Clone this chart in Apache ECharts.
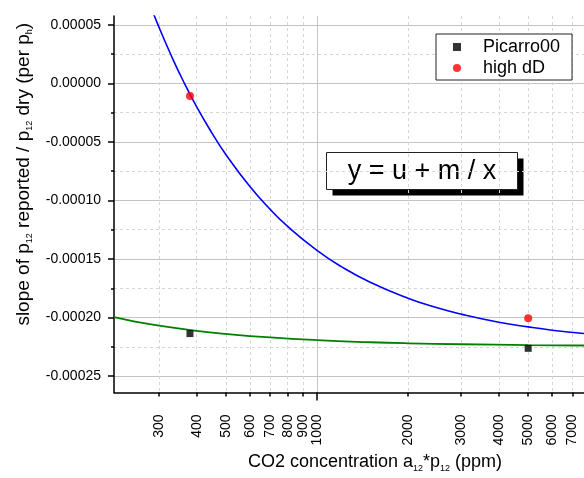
<!DOCTYPE html>
<html>
<head>
<meta charset="utf-8">
<style>
  html, body { margin: 0; padding: 0; background: #fff; }
  #chart { width: 584px; height: 478px; }
</style>
<script src="https://cdn.jsdelivr.net/npm/echarts@6/dist/echarts.min.js"></script>
</head>
<body>
<div id="chart"></div>
<script>
// Measured points: slope vs CO2 concentration (ppm)
const picarroX = [380, 5000];
const picarroY = [-0.0002137, -0.0002263];
const highDDX = [380, 5000];
const highDDY = [-0.0000107, -0.0002006];

// Fitted curves y = u + m / x, sampled along the concentration range
const blueFitX = [260, 280, 300, 330, 360, 400, 450, 500, 600, 700, 800, 1000, 1200, 1500, 2000, 2500, 3000, 4000, 5000, 6000, 7650];
const blueFitY = [0.0000901, 0.0000676, 0.0000481, 0.0000234, 0.0000027, -0.0000200, -0.0000427, -0.0000609, -0.0000881, -0.0001076, -0.0001222, -0.0001426, -0.0001563, -0.0001699, -0.0001835, -0.0001917, -0.0001971, -0.0002040, -0.0002080, -0.0002108, -0.0002137];
const greenFitX = [213, 250, 300, 400, 500, 700, 1000, 1500, 2000, 3000, 5000, 7650];
const greenFitY = [-0.0001997, -0.0002034, -0.0002070, -0.0002114, -0.0002140, -0.0002170, -0.0002193, -0.0002211, -0.0002220, -0.0002228, -0.0002235, -0.0002239];

// Axis ticks
const xTickLabels = [300, 400, 500, 600, 700, 800, 900, 1000, 2000, 3000, 4000, 5000, 6000, 7000];
const xMajorTicks = [1000];
const xMinorTicks = [300, 400, 500, 600, 700, 800, 900, 2000, 3000, 4000, 5000, 6000, 7000];
const yMajorTicks = [-0.00025, -0.00020, -0.00015, -0.00010, -0.00005, 0.00000, 0.00005];
const yMinorTicks = [-0.000225, -0.000175, -0.000125, -0.000075, -0.000025, 0.000025];

const X_MIN = 213, X_MAX = 7650;
const Y_MIN = -0.000264, Y_MAX = 0.0000576;

const FONT = 'Arial, "Liberation Sans", sans-serif';
const lg = Math.log10;
const pair = (xs, ys) => xs.map((x, i) => [lg(x), ys[i]]);

const chart = echarts.init(document.getElementById('chart'), null, { renderer: 'canvas' });

const xBase = {
  type: 'value', position: 'bottom', min: lg(X_MIN), max: lg(X_MAX)
};
const yBase = {
  type: 'value', position: 'left', min: Y_MIN, max: Y_MAX
};

chart.setOption({
  animation: false,
  backgroundColor: '#fff',
  textStyle: { fontFamily: FONT },
  grid: { left: 114, top: 16, right: 0, bottom: 81, containLabel: false },
  legend: {
    orient: 'vertical',
    left: 436, top: 34,
    padding: [4, 12, 3, 17],
    itemGap: 3,
    itemWidth: 8, itemHeight: 8,
    backgroundColor: '#fff',
    borderColor: '#222', borderWidth: 1,
    selectedMode: false,
    textStyle: { fontSize: 18, color: '#000', fontFamily: FONT, padding: [0, 0, 0, 17] },
    data: [
      { name: 'Picarro00', icon: 'rect' },
      { name: 'high dD', icon: 'circle' }
    ]
  },
  xAxis: [
    Object.assign({}, xBase, {
      name: '{a|CO2 concentration a}{s|12}{a|*p}{s|12}{a| (ppm)}',
      nameLocation: 'middle',
      nameGap: 55,
      nameTextStyle: {
        padding: [0, 0, 0, 52],
        rich: {
          a: { fontSize: 18, color: '#000', fontFamily: FONT },
          s: { fontSize: 9, color: '#000', fontFamily: FONT, padding: [12, 0, 0, 0] }
        }
      },
      axisLine: { show: true, onZero: false, lineStyle: { color: '#000', width: 1.5 } },
      axisTick: { show: true, customValues: xMajorTicks.map(lg), length: 8, lineStyle: { color: '#000', width: 1.5 } },
      axisLabel: {
        customValues: xTickLabels.map(lg),
        rotate: 90, margin: 22, fontSize: 14, color: '#000', fontFamily: FONT,
        formatter: v => String(Math.round(Math.pow(10, v)))
      },
      splitLine: { show: true, lineStyle: { color: '#c4c4c4', width: 1 } }
    }),
    Object.assign({}, xBase, {
      axisLine: { show: false, onZero: false },
      axisTick: { show: true, customValues: xMinorTicks.map(lg), length: 4, lineStyle: { color: '#000', width: 1.5 } },
      axisLabel: { show: false },
      splitLine: { show: true, lineStyle: { color: '#d6d6d6', width: 1, type: [3, 3] } }
    })
  ],
  yAxis: [
    Object.assign({}, yBase, {
      name: '{a|slope of p}{s|12}{a| reported / p}{s|12}{a| dry (per p}{s|h}{a|)}',
      nameLocation: 'middle',
      nameGap: 80,
      nameTextStyle: {
        padding: [0, 0, 0, 60],
        rich: {
          a: { fontSize: 19, color: '#000', fontFamily: FONT },
          s: { fontSize: 9, color: '#000', fontFamily: FONT, padding: [12, 0, 0, 0] }
        }
      },
      axisLine: { show: true, onZero: false, lineStyle: { color: '#000', width: 1.5 } },
      axisTick: { show: true, customValues: yMajorTicks, length: 6, lineStyle: { color: '#000', width: 1.5 } },
      axisLabel: {
        customValues: yMajorTicks,
        margin: 13, fontSize: 14, color: '#000', fontFamily: FONT,
        formatter: v => v.toFixed(5)
      },
      splitLine: { show: true, lineStyle: { color: '#c4c4c4', width: 1 } }
    }),
    Object.assign({}, yBase, {
      axisLine: { show: false, onZero: false },
      axisTick: { show: true, customValues: yMinorTicks, length: 3, lineStyle: { color: '#000', width: 1.5 } },
      axisLabel: { show: false },
      splitLine: { show: true, lineStyle: { color: '#d6d6d6', width: 1, type: [3, 3] } }
    })
  ],
  graphic: [
    {
      type: 'group', left: 326, top: 152, z: 100,
      children: [
        { type: 'rect', shape: { x: 6, y: 6, width: 191, height: 37 }, style: { fill: '#000' } },
        { type: 'rect', shape: { x: 0, y: 0, width: 191, height: 37 }, style: { fill: '#fff', stroke: '#222', lineWidth: 1 } },
        { type: 'text', x: 95.5, y: 19, style: { text: 'y = u + m / x', fontSize: 27, fontFamily: FONT, fill: '#000', align: 'center', verticalAlign: 'middle' } }
      ]
    }
  ],
  series: [
    {
      name: 'fit high dD', type: 'line', xAxisIndex: 0, yAxisIndex: 0,
      data: pair(blueFitX, blueFitY), smooth: true, showSymbol: false, clip: true,
      lineStyle: { color: '#0000ff', width: 1.6 }, silent: true
    },
    {
      name: 'fit Picarro00', type: 'line', xAxisIndex: 0, yAxisIndex: 0,
      data: pair(greenFitX, greenFitY), smooth: true, showSymbol: false, clip: true,
      lineStyle: { color: '#008000', width: 1.8 }, silent: true
    },
    {
      name: 'Picarro00', type: 'scatter', xAxisIndex: 0, yAxisIndex: 0,
      data: pair(picarroX, picarroY), symbol: 'rect', symbolSize: 7,
      itemStyle: { color: '#000' }, z: 5
    },
    {
      name: 'high dD', type: 'scatter', xAxisIndex: 0, yAxisIndex: 0,
      data: pair(highDDX, highDDY), symbol: 'circle', symbolSize: 8,
      itemStyle: { color: '#ff0000' }, z: 5
    }
  ]
});
</script>
</body>
</html>
